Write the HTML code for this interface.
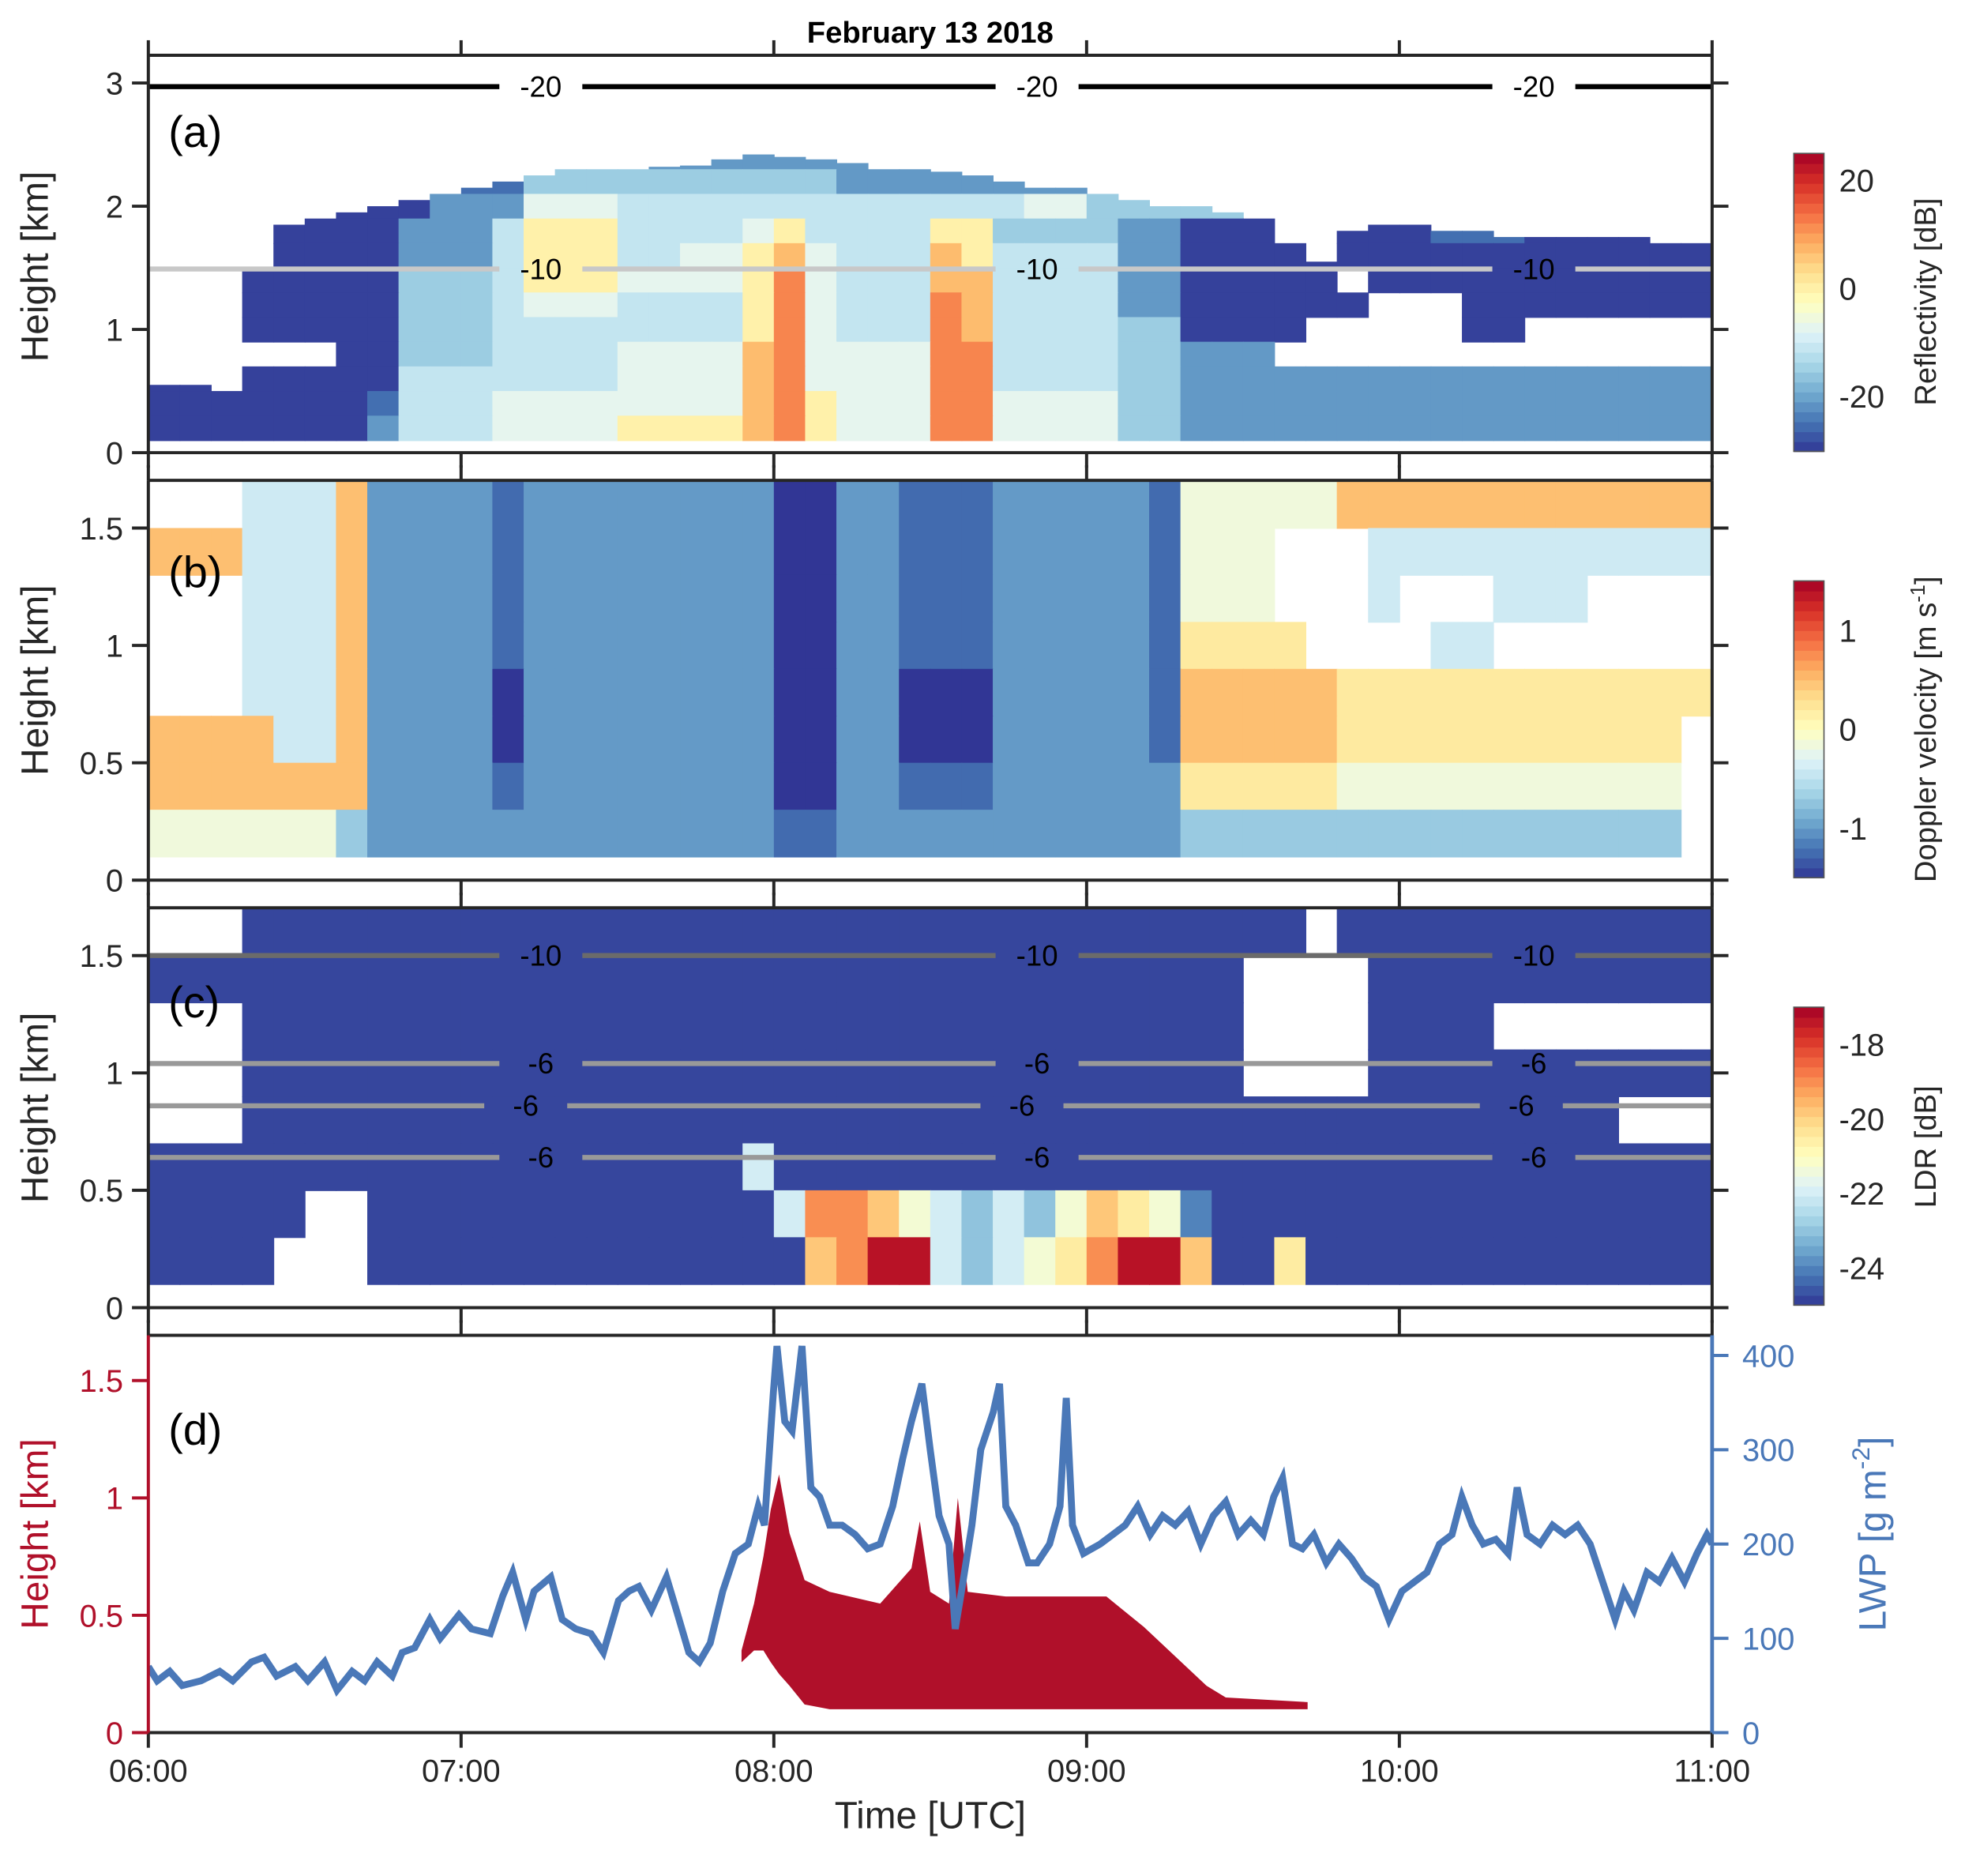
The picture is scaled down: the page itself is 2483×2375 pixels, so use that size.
<!DOCTYPE html>
<html><head><meta charset="utf-8"><style>
html,body{margin:0;padding:0;background:#fff;}
svg{display:block;font-family:"Liberation Sans",sans-serif;}
</style></head><body>
<svg id="fig" width="2483" height="2375" viewBox="0 0 1560 1492" preserveAspectRatio="none" xmlns="http://www.w3.org/2000/svg">
<defs>
<clipPath id="clipD"><rect x="118" y="1062" width="1244" height="316"/></clipPath>
</defs>
<text x="740" y="34" text-anchor="middle" font-size="24" font-weight="bold" fill="#000">February 13 2018</text>
<g id="layerA"></g>
<g id="layerB"></g>
<g id="layerC"></g>
<g id="layerD"></g>
<g id="contours"></g>
<g id="axes"></g>
<g id="cbars"></g>
<text x="134" y="117" font-size="35" fill="#000">(a)</text>
<text x="134" y="467" font-size="35" fill="#000">(b)</text>
<text x="134" y="809" font-size="35" fill="#000">(c)</text>
<text x="134" y="1149" font-size="35" fill="#000">(d)</text>
<text transform="translate(38,212) rotate(-90)" text-anchor="middle" font-size="30" fill="#262626">Height [km]</text>
<text transform="translate(38,541) rotate(-90)" text-anchor="middle" font-size="30" fill="#262626">Height [km]</text>
<text transform="translate(38,881) rotate(-90)" text-anchor="middle" font-size="30" fill="#262626">Height [km]</text>
<text transform="translate(38,1220) rotate(-90)" text-anchor="middle" font-size="30" fill="#b0102a">Height [km]</text>
<text transform="translate(1500,1220) rotate(-90)" text-anchor="middle" font-size="30" fill="#4a78b8">LWP [g m<tspan font-size="20" dy="-13">-2</tspan><tspan dy="13">]</tspan></text>
<text transform="translate(1540,240) rotate(-90)" text-anchor="middle" font-size="24" fill="#262626">Reflectivity [dB]</text>
<text transform="translate(1540,580) rotate(-90)" text-anchor="middle" font-size="24" fill="#262626">Doppler velocity [m s<tspan font-size="16" dy="-9">-1</tspan><tspan dy="9">]</tspan></text>
<text transform="translate(1540,912) rotate(-90)" text-anchor="middle" font-size="24" fill="#262626">LDR [dB]</text>
<text x="740" y="1454" text-anchor="middle" font-size="30" fill="#262626">Time [UTC]</text>
</svg>
<script>
// ---------- data ----------
const timeTickLabels = ["06:00","07:00","08:00","09:00","10:00","11:00"];
// panel a: reflectivity
const levelsA = [-29,-25,-21,-15,-11,-7,0,7,12,20];
const topA = [0.55,0.55,0.5,1.5,1.85,1.9,1.95,2.0,2.05,2.1,2.15,2.2,2.25,2.3,2.3,2.3,2.32,2.33,2.38,2.42,2.4,2.38,2.35,2.3,2.3,2.28,2.25,2.2,2.15,2.15,2.1,2.05,2.0,2.0,1.95,1.9,1.7,1.55,1.8,1.85,1.85,1.8,1.8,1.75,1.75,1.75,1.75,1.75,1.7,1.7];
const rowsA = [
".............22222222222..........................",
".........11133333333332222222222..................",
".....00002225554444444444444553333311111..............".slice(0,50),
"....00002224666444456444466333322000000001110000000".slice(0,50),
"...0000022246664455675444764444220000000000000000".padEnd(50,"0"),
"...00000333466655556854447744442200000.000000000000",
"...000003334555444468544487444422000000...0000000000".slice(0,50),
"...0000033344444444685444874444330000.....00.......".slice(0,50),
"......003334444555578555588444433222..............."
,"00000000444444455557855558844443322222222222222222",
"00000001444555555557865558855553322222222222222222",
"00000002444555566667865558855553322222222222222222"];
// panel b: doppler velocity
const levelsB = [-1.5,-1.25,-1.0,-0.7,-0.4,-0.15,0.2,0.5,0.9,1.3];
const rowsB = [
"...444722221222222220022111222221555557777777777777",
"777444722221222222220022111222221555...444444444444".slice(0,50),
"...444722221222222220022111222221555...4...444.....".slice(0,50),
"...4447222212222222200221112222216666....44......".padEnd(50,"."),
"...44472222022222222002200022222177777666666666666",
"7777447222202222222200220002222217777766666666666",
"7777777222212222222200221112222226666655555555555",
"5555553222222222222211222222222223333333333333333"];
// panel c: LDR
const levelsC = [-24.8,-24,-23,-22,-21.3,-20.5,-19.8,-19,-18,-17.3];
const rowsC = [
"...0000000000000000000000000000000000.000000000000",
"00000000000000000000000000000000000....00000000000",
"...00000000000000000000000000000000....0000.......",
"...00000000000000000000000000000000....00000000000",
"...00000000000000000000000000000000000000000000...",
"00000000000000000003000000000000000000000000000000",
"00000..0000000000000377643232465410000000000000000",
"0000...00000000000000679932345799600500000000000000".slice(0,50)];
// panel d: liquid layer (red) and LWP
const redTime = [113.8,116.2,118,119.4,121,123,125.9,130.7,140.4,146.4,148,150,153.6,155.3,157.2,164.5,183.8,191,198.2,203,206.7,222.4];
const redTop  = [0.35,0.55,0.75,0.95,1.1,0.85,0.65,0.6,0.55,0.7,0.9,0.6,0.55,1.0,0.6,0.58,0.58,0.45,0.3,0.2,0.15,0.13];
const redBase = [0.3,0.35,0.35,0.3,0.25,0.2,0.12,0.1,0.1,0.1,0.1,0.1,0.1,0.1,0.1,0.1,0.1,0.1,0.1,0.1,0.1,0.1];
const lwpTime = [0,1.7,4.1,6.5,10.1,13.7,16.2,19.8,22.2,24.6,28.2,30.6,33.8,36.2,39.1,41.5,43.9,46.8,48.7,51.1,54.0,56.0,59.6,62.0,65.6,68.0,69.9,72.4,74.0,77.2,79.4,82.0,84.9,87.3,90.2,92.2,94.1,96.5,99.4,101.3,103.7,105.7,107.8,110.2,112.6,115.1,117.0,118.2,119.9,120.6,122.1,123.5,125.4,127.1,128.8,130.7,133.1,135.6,138.0,140.4,142.8,144.7,146.4,148.4,150.0,151.7,153.6,154.8,156.0,158.0,159.7,162.1,163.3,164.5,166.4,168.8,170.5,172.9,174.9,176.1,177.3,179.4,182.6,185.0,187.4,189.8,192.2,194.6,197.0,199.5,201.9,204.3,206.7,209.1,211.5,213.9,215.9,217.6,219.5,221.4,223.6,226.0,228.4,230.8,233.2,235.6,238.0,240.5,242.9,245.3,247.7,250.1,252.0,254.0,256.1,258.5,260.9,262.6,264.5,267.0,269.4,271.8,274.2,276.6,279.0,281.4,283.1,285.0,287.5,289.9,292.3,294.7,297.1,299.0,300];
const lwpValue = [70,55,65,50,55,65,55,75,80,60,70,55,75,45,65,55,75,60,85,90,120,100,125,110,105,145,170,120,150,165,120,110,105,85,140,150,155,130,165,130,85,75,95,150,190,200,240,220,360,410,330,320,410,260,250,220,220,210,195,200,240,290,330,370,300,230,200,110,150,220,300,340,370,240,220,180,180,200,240,355,220,190,200,210,220,240,210,230,220,235,200,230,245,210,225,210,250,270,200,195,210,180,200,185,165,155,120,150,160,170,200,210,250,220,200,205,190,260,210,200,220,210,220,200,160,120,150,130,170,160,185,160,190,210,200];
// contours
const contourLabelTimes = [75.3,170.5,265.8];
const contourLabelTimesShift = [72.4,167.6,263.4];
const contoursA = [{h:2.97,label:"-20",color:"#000"},{h:1.49,label:"-10",color:"#c8c8c8"}];
const contoursC = [{h:1.5,label:"-10",color:"#6b6b6b"},{h:1.04,label:"-6",color:"#999"},{h:0.86,label:"-6",color:"#999",shift:true},{h:0.64,label:"-6",color:"#999"}];
// ticks
const ticksA = [0,1,2,3];
const ticksBC = [0,0.5,1,1.5];
const ticksDL = [0,0.5,1,1.5];
const ticksDR = [0,100,200,300,400];
const cbTicksA = [20,0,-20];
const cbTicksB = [1,0,-1];
const cbTicksC = [-18,-20,-22,-24];

// ---------- helpers ----------
const NS="http://www.w3.org/2000/svg";
const X0=118,X1=1362;
function X(min){return X0+min/300*(X1-X0);}
const panels={
 a:{top:44,bottom:360,k:98},
 b:{top:382,bottom:700,k:186.7},
 c:{top:722,bottom:1040,k:186.7},
 d:{top:1062,bottom:1378,k:186.7}
};
function Y(p,h){return panels[p].bottom-h*panels[p].k;}
function YL(v){return 1378-v*0.75;}
const stops=["#313695","#4575b4","#74add1","#abd9e9","#e0f3f8","#ffffbf","#fee090","#fdae61","#f46d43","#d73027","#a50026"];
function hex(c){return [parseInt(c.slice(1,3),16),parseInt(c.slice(3,5),16),parseInt(c.slice(5,7),16)];}
function cmap(t){t=Math.max(0,Math.min(1,t));const f=t*(stops.length-1);const i=Math.min(stops.length-2,Math.floor(f));const u=f-i;const a=hex(stops[i]),b=hex(stops[i+1]);return "rgb("+a.map((v,j)=>Math.round(v+(b[j]-v)*u)).join(",")+")";}
function el(tag,attrs,parent,name){
 const e=document.createElementNS(NS,tag);
 for(const k in attrs)e.setAttribute(k,attrs[k]);
 
 
 parent.appendChild(e);return e;}

// ---------- heatmaps ----------
function heat(layerId,p,rows,levels,vmin,vmax,tops){
 const g=document.getElementById(layerId);
 const nR=rows.length;
 for(let ri=0;ri<nR;ri++){
  const r=nR-1-ri; const lo=0.1+0.2*r;
  const row=rows[ri];
  for(let c=0;c<50;c++){
   const ch=row[c]; if(ch===undefined||ch==='.')continue;
   let hi=lo+0.2; if(tops)hi=Math.min(hi,tops[c]); if(hi<=lo)continue;
   const v=levels[+ch];
   const x=X(c*6),w=X((c+1)*6)-x;
   el('rect',{x:x,y:Y(p,hi),width:w+0.6,height:Y(p,lo)-Y(p,hi)+0.6,fill:cmap((v-vmin)/(vmax-vmin))},g,'heatmap-cell');
  }
 }
}
heat('layerA','a',rowsA,levelsA,-30,25,topA);
heat('layerB','b',rowsB,levelsB,-1.5,1.5,null);
heat('layerC','c',rowsC,levelsC,-25,-17,null);

// ---------- panel d ----------
(function(){
 const g=document.getElementById('layerD');
 let pts=[];
 for(let i=0;i<redTime.length;i++)pts.push(X(redTime[i])+","+Y('d',redTop[i]));
 for(let i=redTime.length-1;i>=0;i--)pts.push(X(redTime[i])+","+Y('d',redBase[i]));
 el('polygon',{points:pts.join(" "),fill:"#b0102a"},g,'liquid-layer-area');
 let lp=[];
 for(let i=0;i<lwpTime.length;i++)lp.push(X(lwpTime[i])+","+YL(lwpValue[i]));
 el('polyline',{points:lp.join(" "),fill:"none",stroke:"#4a78b8","stroke-width":5.5,"stroke-linejoin":"miter","clip-path":"url(#clipD)"},g,'lwp-line');
})();

// ---------- contours ----------
(function(){
 const g=document.getElementById('contours');
 function draw(p,list){
  list.forEach(cn=>{
   const y=Y(p,cn.h);
   const lt=cn.shift?contourLabelTimesShift:contourLabelTimes;
   let x=X0;
   lt.forEach(t=>{const cx=X(t);el('line',{x1:x,y1:y,x2:cx-33,y2:y,stroke:cn.color,"stroke-width":4},g,'contour-line');x=cx+33;
    const tx=el('text',{x:cx,y:y+8,"text-anchor":"middle","font-size":23,fill:"#000"},g,'contour-label');tx.textContent=cn.label;});
   el('line',{x1:x,y1:y,x2:X1,y2:y,stroke:cn.color,"stroke-width":4},g,'contour-line');
  });
 }
 draw('a',contoursA);draw('c',contoursC);
})();

// ---------- axes ----------
(function(){
 const g=document.getElementById('axes');
 const ax="#262626";
 ['a','b','c','d'].forEach(p=>{
  const P=panels[p];
  el('line',{x1:X0,y1:P.top,x2:X1,y2:P.top,stroke:ax,"stroke-width":2.5},g,'axis-top-'+p);
  el('line',{x1:X0,y1:P.bottom,x2:X1,y2:P.bottom,stroke:ax,"stroke-width":2.5},g,'axis-bottom-'+p);
  el('line',{x1:X0,y1:P.top,x2:X0,y2:P.bottom+1,stroke:p==='d'?"#b0102a":ax,"stroke-width":2.5},g,'axis-left-'+p);
  el('line',{x1:X1,y1:P.top,x2:X1,y2:P.bottom+1,stroke:p==='d'?"#4a78b8":ax,"stroke-width":p==='d'?3:2.5},g,'axis-right-'+p);
  for(let i=0;i<timeTickLabels.length;i++){
   const x=X(i*60);
   el('line',{x1:x,y1:P.top,x2:x,y2:P.top-12,stroke:ax,"stroke-width":2.5},g,'x-tick-top');
   el('line',{x1:x,y1:P.bottom,x2:x,y2:P.bottom+12,stroke:ax,"stroke-width":2.5},g,'x-tick-bottom');
  }
  const ticks=p==='a'?ticksA:(p==='d'?ticksDL:ticksBC);
  const col=p==='d'?"#b0102a":ax;
  ticks.forEach(v=>{
   const y=Y(p,v);
   el('line',{x1:X0-13,y1:y,x2:X0,y2:y,stroke:col,"stroke-width":2.5},g,'y-tick');
   if(p!=='d')el('line',{x1:X1,y1:y,x2:X1+13,y2:y,stroke:ax,"stroke-width":2.5},g,'y-tick-right');
   const t=el('text',{x:X0-20,y:y+9,"text-anchor":"end","font-size":25,fill:col},g,'y-tick-label');t.textContent=String(v);
  });
 });
 ticksDR.forEach(v=>{
  const y=YL(v);
  el('line',{x1:X1,y1:y,x2:X1+13,y2:y,stroke:"#4a78b8","stroke-width":2.5},g,'lwp-tick');
  const t=el('text',{x:X1+24,y:y+9,"font-size":25,fill:"#4a78b8"},g,'lwp-tick-label');t.textContent=String(v);
 });
 timeTickLabels.forEach((s,i)=>{
  const t=el('text',{x:X(i*60),y:1417,"text-anchor":"middle","font-size":25,fill:ax},g,'x-tick-label');t.textContent=s;
 });
})();

// ---------- colorbars ----------
(function(){
 const g=document.getElementById('cbars');
 function cb(top,bot,vmin,vmax,ticks,name){
  const n=30,x=1427,w=24;
  for(let i=0;i<n;i++){
   const y0=bot-(i+1)*(bot-top)/n;
   el('rect',{x:x,y:y0,width:w,height:(bot-top)/n+0.5,fill:cmap((i+0.5)/n)},g,name+'-band');
  }
  el('rect',{x:x,y:top,width:w,height:bot-top,fill:"none",stroke:"#555","stroke-width":1},g,name+'-frame');
  ticks.forEach(v=>{
   const y=bot-(v-vmin)/(vmax-vmin)*(bot-top);
   const t=el('text',{x:x+w+12,y:y+9,"font-size":25,fill:"#262626"},g,name+'-tick-label');t.textContent=String(v);
  });
 }
 cb(122,359,-30.2,25,cbTicksA,'colorbar-a');
 cb(462,698,-1.5,1.5,cbTicksB,'colorbar-b');
 cb(801,1038,-25,-17,cbTicksC,'colorbar-c');
})();
</script>
</body></html>
